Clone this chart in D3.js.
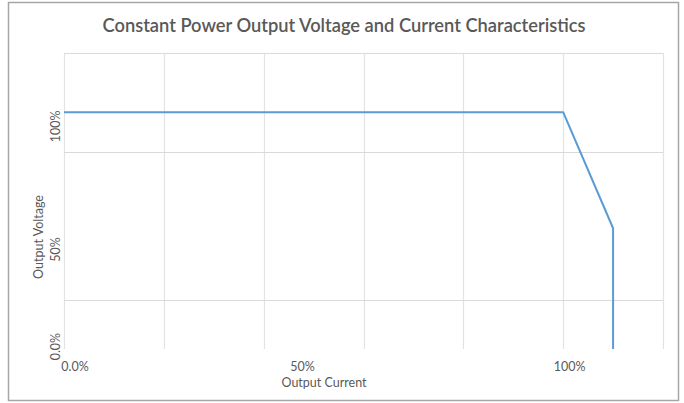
<!DOCTYPE html>
<html>
<head>
<meta charset="utf-8">
<script src="https://cdn.jsdelivr.net/npm/d3@7"></script>
<style>
    body { margin: 0; background: #fff; }
    svg { display: block; font-family: Lato, "Open Sans", sans-serif; }
</style>
</head>
<body>
<svg id="cpChart" width="684" height="403"></svg>
<script>
// curve points: output current (fraction) vs output voltage (fraction)
const currentVals = [0, 1.0, 1.1, 1.1];
const voltageVals = [1.0, 1.0, 0.51, 0];

// gridlines as drawn in the original sheet
const xGridVals = [0, 0.2, 0.4, 0.6, 0.8, 1.0, 1.2];
const yGridVals = [0.207, 0.832, 1.25];

// tick labels and where Excel happened to put them
const xTickLabels = ["0.0%", "50%", "100%"];
const xTickPos = [0.022, 0.478, 1.013];
const yTickLabels = ["0.0%", "50%", "100%"];
const yTickPos = [0.01, 0.42, 0.94];

const svg = d3.select("#cpChart");
const margens = { left: 64, right: 21, top: 53, bottom: 54 };
const width = 684, height = 403;

svg.append("rect")
    .attr("x", 8.5).attr("y", 2.5)
    .attr("width", 670).attr("height", 398)
    .attr("fill", "#fff")
    .attr("stroke", "#a6a6a6")
    .attr("stroke-width", 1.5);

const mapX = d3.scaleLinear().domain([0, 1.2]).range([margens.left, width - margens.right]);
const mapY = d3.scaleLinear().domain([0, 1.25]).range([height - margens.bottom, margens.top]);

// vertical gridlines
svg.append("g")
    .selectAll("line")
    .data(xGridVals)
    .enter()
    .append("line")
    .attr("x1", (d) => Math.round(mapX(d)) + 0.5)
    .attr("x2", (d) => Math.round(mapX(d)) + 0.5)
    .attr("y1", mapY(0))
    .attr("y2", mapY(1.25))
    .attr("stroke", "#e3e3e3")
    .attr("stroke-width", 1.2);

// horizontal gridlines
svg.append("g")
    .selectAll("line")
    .data(yGridVals)
    .enter()
    .append("line")
    .attr("x1", mapX(0))
    .attr("x2", mapX(1.2))
    .attr("y1", (d) => Math.round(mapY(d)) + 0.5)
    .attr("y2", (d) => Math.round(mapY(d)) + 0.5)
    .attr("stroke", "#d9d9d9")
    .attr("stroke-width", 1.2);

const line = d3
    .line()
    .x((d, i) => mapX(currentVals[i]))
    .y((d, i) => mapY(voltageVals[i]));

svg.append("path")
    .datum(currentVals)
    .attr("fill", "none")
    .attr("stroke", "#5b9bd5")
    .attr("stroke-width", 2)
    .attr("stroke-linejoin", "round")
    .attr("d", line);

// x tick labels
svg.append("g")
    .selectAll("text")
    .data(xTickLabels)
    .enter()
    .append("text")
    .attr("x", (d, i) => mapX(xTickPos[i]))
    .attr("y", 371)
    .attr("text-anchor", "middle")
    .attr("font-size", 12.5)
    .attr("fill", "#595959")
    .text((d) => d);

// y tick labels, rotated
svg.append("g")
    .selectAll("text")
    .data(yTickLabels)
    .enter()
    .append("text")
    .attr("transform", (d, i) => `translate(60, ${mapY(yTickPos[i])}) rotate(-90)`)
    .attr("text-anchor", "middle")
    .attr("font-size", 12.5)
    .attr("fill", "#595959")
    .text((d) => d);

svg.append("text")
    .attr("x", 324)
    .attr("y", 387)
    .attr("text-anchor", "middle")
    .attr("font-size", 12.5)
    .attr("fill", "#595959")
    .text("Output Current");

svg.append("text")
    .attr("transform", "translate(43, 237) rotate(-90)")
    .attr("text-anchor", "middle")
    .attr("font-size", 12.5)
    .attr("fill", "#595959")
    .text("Output Voltage");

svg.append("text")
    .attr("x", 344)
    .attr("y", 32)
    .attr("text-anchor", "middle")
    .attr("font-size", 18.3)
    .attr("font-weight", 600)
    .attr("fill", "#595959")
    .text("Constant Power Output Voltage and Current Characteristics");
</script>
</body>
</html>
